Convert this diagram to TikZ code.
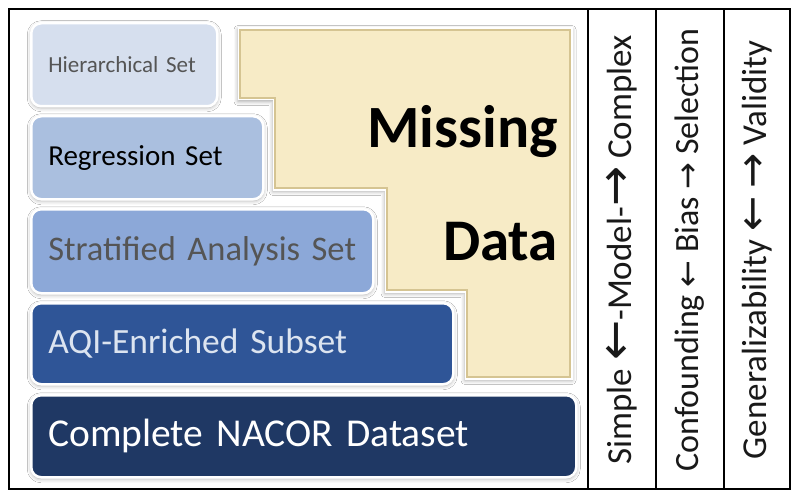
\documentclass[tikz,border=0pt]{standalone}
\usepackage{fontspec}
\setmainfont{Carlito}
\newfontfamily\arrowfont{DejaVu Sans}
\usetikzlibrary{shadows.blur}
\definecolor{hierC}{HTML}{D6DFEE}
\definecolor{regC}{HTML}{AABFDF}
\definecolor{strC}{HTML}{8CA8D8}
\definecolor{aqiC}{HTML}{2F5597}
\definecolor{nacC}{HTML}{1F3864}
\definecolor{yelC}{HTML}{F7EBC6}
\definecolor{tanC}{HTML}{D5C492}
\definecolor{greyT}{HTML}{555555}
\definecolor{lightT}{HTML}{DCE4F0}
\tikzset{
  setbox/.style={draw=white, line width=2.5pt, rounded corners=10pt,
    blur shadow={shadow xshift=0pt, shadow yshift=-1.5pt, shadow blur radius=4pt, shadow opacity=35},
    anchor=north west, inner xsep=17pt, inner ysep=0pt, align=left},
  coltext/.style={rotate=90, text=black!90, inner sep=0pt},
}
\begin{document}
\begin{tikzpicture}[x=1pt,y=-1pt]
\useasboundingbox (0,0) rectangle (800,500);
\fill[white] (0,0) rectangle (800,500);
% Missing data staircase
\path[blur shadow={shadow xshift=0pt, shadow yshift=-1.5pt, shadow blur radius=4pt, shadow opacity=35}, fill=white]
  (238,28) -- (572,28) -- (572,379) -- (465,379) -- (465,292) -- (385,292) -- (385,190) -- (273,190) -- (273,100) -- (238,100) -- cycle;
\draw[white, line width=5pt, fill=yelC]
  (240,30) -- (570,30) -- (570,377) -- (467,377) -- (467,290) -- (387,290) -- (387,188) -- (275,188) -- (275,98) -- (240,98) -- cycle;
\fill[yelC]
  (240,30) -- (570,30) -- (570,377) -- (467,377) -- (467,290) -- (387,290) -- (387,188) -- (275,188) -- (275,98) -- (240,98) -- cycle;
\draw[tanC, line width=1.2pt, line join=miter]
  (240,30) -- (570,30) -- (570,377) -- (467,377) -- (467,290) -- (387,290) -- (387,188) -- (275,188) -- (275,98) -- (240,98) -- cycle;
\node[anchor=east, font=\fontsize{60}{66}\selectfont\bfseries, inner sep=0pt] (miss) at (558,132) {Missing};
\node[anchor=east, font=\fontsize{59}{66}\selectfont\bfseries, inner sep=0pt] (data) at (558,242) {Data};
% data set boxes
\node[setbox, fill=hierC, text width=152pt, minimum height=83pt, text=greyT, font=\fontsize{23}{26}\selectfont] (hier) at (30,22) {Hierarchical Set};
\node[setbox, fill=regC, text width=198pt, minimum height=83pt, text=black, font=\fontsize{29}{34}\selectfont] (reg) at (30,115) {Regression Set};
\node[setbox, fill=strC, text width=308pt, minimum height=84pt, text=greyT, font=\fontsize{34.5}{40}\selectfont] (strat) at (30,208) {Stratified Analysis Set};
\node[setbox, fill=aqiC, text width=388pt, minimum height=81pt, text=lightT, font=\fontsize{35.5}{40}\selectfont] (aqi) at (30,302) {AQI-Enriched Subset};
\node[setbox, fill=nacC, text width=511pt, minimum height=82pt, text=white, font=\fontsize{39.5}{44}\selectfont] (nac) at (30,394) {Complete NACOR Dataset};
% frame and columns
\draw[line width=2.5pt] (9,9) rectangle (790,489);
\draw[line width=2pt] (588,9) -- (588,489);
\draw[line width=2pt] (656,9) -- (656,489);
\draw[line width=2pt] (724,9) -- (724,489);
\node[coltext, font=\fontsize{35}{40}\selectfont] (c1) at (622,250) {Simple {\arrowfont\fontsize{48}{40}\selectfont ←}-Model-{\arrowfont\fontsize{48}{40}\selectfont →} Complex};
\node[coltext, font=\fontsize{34}{38}\selectfont] (c2) at (690,250) {Confounding {\arrowfont\fontsize{32}{38}\selectfont ←} Bias {\arrowfont\fontsize{32}{38}\selectfont →} Selection};
\node[coltext, font=\fontsize{35}{40}\selectfont] (c3) at (757,250) {Generalizability {\arrowfont\fontsize{42}{40}\selectfont ←} {\arrowfont\fontsize{42}{40}\selectfont →} Validity};
\end{tikzpicture}
\end{document}
